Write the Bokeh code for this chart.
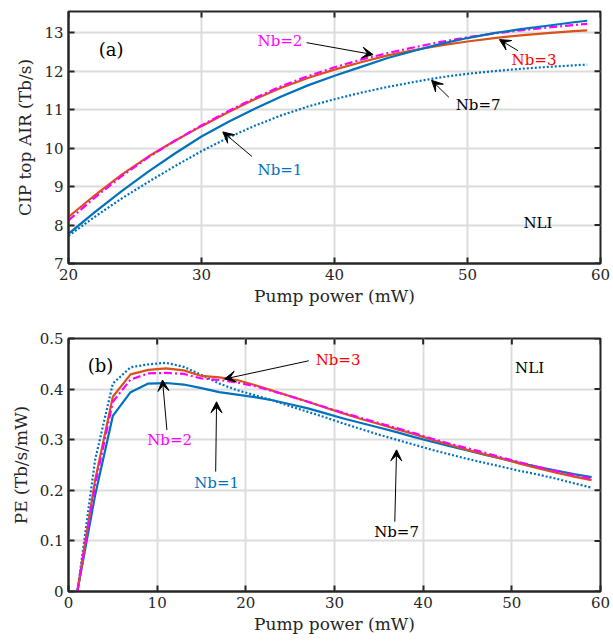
from bokeh.plotting import figure
from bokeh.models import Range1d, FixedTicker, Label, Arrow, VeeHead
from bokeh.layouts import column
from bokeh.embed import file_html
from bokeh.resources import INLINE

# ---------------- data: panel (a) ----------------
pump_a = [20, 22, 24, 26, 28, 30, 32, 34, 36, 38, 40, 42, 44, 46, 48, 50, 52, 54, 56, 58, 59]
air_nb1 = [7.77, 8.34, 8.88, 9.39, 9.86, 10.30, 10.68, 11.02, 11.34, 11.63, 11.88, 12.11, 12.34,
           12.53, 12.71, 12.86, 12.99, 13.09, 13.18, 13.27, 13.31]
air_nb2 = [8.12, 8.72, 9.27, 9.76, 10.19, 10.59, 10.96, 11.30, 11.61, 11.87, 12.10, 12.30, 12.47,
           12.62, 12.76, 12.88, 12.98, 13.06, 13.13, 13.20, 13.23]
air_nb3 = [8.21, 8.78, 9.31, 9.78, 10.19, 10.57, 10.93, 11.27, 11.57, 11.82, 12.04, 12.23, 12.41,
           12.55, 12.67, 12.77, 12.86, 12.93, 12.99, 13.04, 13.06]
air_nb7 = [7.72, 8.22, 8.69, 9.12, 9.53, 9.92, 10.27, 10.58, 10.85, 11.08, 11.27, 11.44, 11.59,
           11.72, 11.84, 11.93, 12.00, 12.06, 12.11, 12.15, 12.17]

# ---------------- data: panel (b) ----------------
pump_b = [1, 3, 5, 7, 9, 11, 13, 15, 17, 19, 21, 23, 25, 27, 29, 31, 33, 35, 37, 39, 41, 43, 45,
          47, 49, 51, 53, 55, 57, 59]
pe_nb1 = [0, 0.19, 0.347, 0.394, 0.411, 0.412, 0.409, 0.402, 0.394, 0.389, 0.384, 0.378, 0.370,
          0.362, 0.352, 0.342, 0.333, 0.324, 0.315, 0.305, 0.296, 0.287, 0.279, 0.270, 0.262,
          0.254, 0.246, 0.239, 0.232, 0.226]
pe_nb2 = [0, 0.21, 0.375, 0.419, 0.431, 0.432, 0.430, 0.421, 0.418, 0.413, 0.406, 0.396, 0.386,
          0.375, 0.364, 0.353, 0.343, 0.333, 0.323, 0.313, 0.302, 0.292, 0.283, 0.274, 0.264,
          0.255, 0.246, 0.238, 0.230, 0.223]
pe_nb3 = [0, 0.22, 0.385, 0.429, 0.438, 0.441, 0.437, 0.426, 0.423, 0.418, 0.408, 0.397, 0.386,
          0.375, 0.363, 0.352, 0.341, 0.331, 0.321, 0.311, 0.300, 0.290, 0.280, 0.271, 0.262,
          0.252, 0.243, 0.235, 0.227, 0.220]
pe_nb7 = [0, 0.26, 0.411, 0.443, 0.449, 0.452, 0.444, 0.428, 0.411, 0.398, 0.388, 0.378, 0.366,
          0.355, 0.344, 0.332, 0.321, 0.310, 0.300, 0.290, 0.280, 0.271, 0.262, 0.254, 0.246,
          0.238, 0.231, 0.223, 0.214, 0.205]

xticks_a = [20, 30, 40, 50, 60]
yticks_a = [7, 8, 9, 10, 11, 12, 13]
xticks_b = [0, 10, 20, 30, 40, 50, 60]
yticks_b = [0, 0.1, 0.2, 0.3, 0.4, 0.5]

FONT = "DejaVu Serif"
BLUE = "#0072BD"
ORANGE = "#D95319"
MAGENTA = "#FF00FF"
DARK = "#262626"
WIDTH = 613
LEFT, RIGHT = 68, 13
TICK_PX = 6


def style_axis(ax, ticks):
    ax.ticker = FixedTicker(ticks=ticks)
    ax.minor_tick_line_color = None
    ax.major_tick_in = TICK_PX
    ax.major_tick_out = 0
    ax.major_tick_line_width = 2
    ax.major_tick_line_color = DARK
    ax.axis_line_color = DARK
    ax.axis_line_width = 2
    ax.major_label_text_font = FONT
    ax.major_label_text_font_size = "15px"
    ax.major_label_text_color = DARK
    ax.axis_label_text_font = FONT
    ax.axis_label_text_font_size = "17px"
    ax.axis_label_text_font_style = "normal"
    ax.axis_label_text_color = DARK


def make_fig(xr, yr, xt, yt, ylabel, height, top, bottom):
    p = figure(width=WIDTH, height=height, x_range=Range1d(*xr), y_range=Range1d(*yr),
               output_backend="svg", toolbar_location=None,
               min_border_left=LEFT, min_border_right=RIGHT, min_border_top=top,
               min_border_bottom=bottom)
    p.outline_line_color = DARK
    p.outline_line_width = 2
    p.outline_line_alpha = 1
    style_axis(p.xaxis[0], xt)
    style_axis(p.yaxis[0], yt)
    p.xaxis[0].axis_label = "Pump power (mW)"
    p.xaxis[0].axis_label_standoff = 3
    p.xaxis[0].major_label_standoff = 5
    p.yaxis[0].axis_label = ylabel
    p.yaxis[0].axis_label_standoff = 6
    p.yaxis[0].major_label_standoff = 5
    p.xgrid.ticker = FixedTicker(ticks=xt)
    p.ygrid.ticker = FixedTicker(ticks=yt)
    for g in (p.xgrid[0], p.ygrid[0]):
        g.grid_line_color = "#DCDCDC"
        g.grid_line_width = 2
    p.background_fill_color = "white"
    p.border_fill_color = "white"
    # inward box ticks on the top and right edges (MATLAB "box on")
    fw = WIDTH - LEFT - RIGHT
    fh = height - top - bottom
    dy = TICK_PX * (yr[1] - yr[0]) / fh
    dx = TICK_PX * (xr[1] - xr[0]) / fw
    p.segment(x0=xt, x1=xt, y0=[yr[1]] * len(xt), y1=[yr[1] - dy] * len(xt),
              line_color=DARK, line_width=2)
    p.segment(x0=[xr[1]] * len(yt), x1=[xr[1] - dx] * len(yt), y0=yt, y1=yt,
              line_color=DARK, line_width=2)
    return p


def label(p, x, y, text, color="black", size="15px"):
    p.add_layout(Label(x=x, y=y, text=text, text_align="center", text_baseline="middle",
                       text_font=FONT, text_font_size=size, text_color=color))


def arrow(p, x0, y0, x1, y1):
    p.add_layout(Arrow(end=VeeHead(size=11, fill_color="black", line_color="black"),
                       x_start=x0, y_start=y0, x_end=x1, y_end=y1,
                       line_color="black", line_width=1))


# ---------------- panel (a) ----------------
pa = make_fig((20, 60), (7, 13.55), xticks_a, yticks_a, "CIP top AIR (Tb/s)", 312, 11, 49)
pa.line(pump_a, air_nb7, line_color=BLUE, line_width=2.2, line_dash="2 2")
pa.line(pump_a, air_nb3, line_color=ORANGE, line_width=2.2)
pa.line(pump_a, air_nb2, line_color=MAGENTA, line_width=2.2, line_dash="8 3 2 3")
pa.line(pump_a, air_nb1, line_color=BLUE, line_width=2.2)

label(pa, 23.2, 12.56, "(a)", "black", "18px")
label(pa, 35.9, 12.79, "Nb=2", MAGENTA)
arrow(pa, 37.9, 12.74, 42.9, 12.43)
label(pa, 55.0, 12.3, "Nb=3", "#FF0000")
arrow(pa, 53.8, 12.53, 52.4, 12.82)
label(pa, 50.8, 11.12, "Nb=7", "black")
arrow(pa, 48.6, 11.32, 47.3, 11.76)
label(pa, 35.9, 9.44, "Nb=1", BLUE)
arrow(pa, 33.8, 9.78, 31.6, 10.42)
label(pa, 55.3, 8.05, "NLI", "black")

# ---------------- panel (b) ----------------
pb = make_fig((0, 60), (0, 0.5), xticks_b, yticks_b, "PE (Tb/s/mW)", 328, 26, 49)
pb.line(pump_b, pe_nb7, line_color=BLUE, line_width=2.2, line_dash="2 2")
pb.line(pump_b, pe_nb1, line_color=BLUE, line_width=2.2)
pb.line(pump_b, pe_nb3, line_color=ORANGE, line_width=2.2)
pb.line(pump_b, pe_nb2, line_color=MAGENTA, line_width=2.2, line_dash="8 3 2 3")

label(pb, 3.6, 0.446, "(b)", "black", "18px")
label(pb, 52.0, 0.442, "NLI", "black")
label(pb, 30.4, 0.457, "Nb=3", "#FF0000")
arrow(pb, 27.1, 0.456, 17.6, 0.42)
label(pb, 11.4, 0.299, "Nb=2", MAGENTA)
arrow(pb, 11.1, 0.319, 10.6, 0.418)
label(pb, 16.7, 0.214, "Nb=1", BLUE)
arrow(pb, 16.6, 0.237, 16.7, 0.375)
label(pb, 37.0, 0.117, "Nb=7", "black")
arrow(pb, 36.8, 0.138, 37.0, 0.28)

layout = column(pa, pb, spacing=0)
open("out.html", "w").write(file_html(layout, INLINE))
